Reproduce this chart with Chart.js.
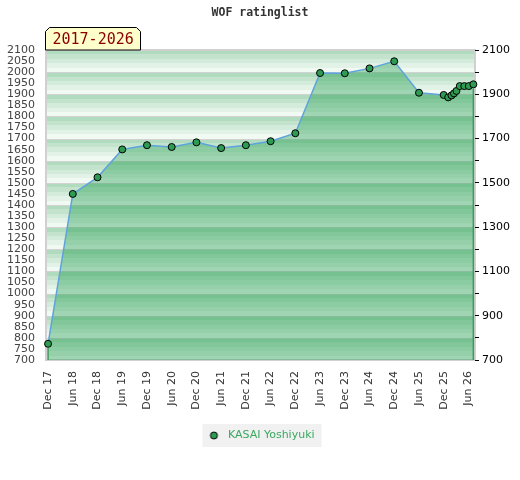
<!DOCTYPE html>
<html>
<head>
<meta charset="utf-8">
<script src="https://cdn.jsdelivr.net/npm/chart.js@4.4.1/dist/chart.umd.min.js"></script>
<style>
  html, body { margin: 0; padding: 0; background: #fff; }
</style>
</head>
<body>
<canvas id="chart" width="520" height="480"></canvas>
<script>
const chartTitle = "WOF ratinglist";
const periodLabel = "2017-2026";
const playerName = "KASAI Yoshiyuki";

// x = months counted from Dec 2017
const months = [0, 6, 12, 18, 24, 30, 36, 42, 48, 54, 60, 66, 72, 78, 84, 90, 96,
  97.1, 97.9, 98.5, 99.1, 99.9, 101, 102.1, 103.2];
const ratings = [773, 1450, 1525, 1651, 1670, 1662, 1683, 1657, 1670, 1688, 1724, 1996, 1995,
  2017, 2049, 1907, 1897, 1886, 1895, 1904, 1915, 1937, 1937, 1937, 1945];

const tickMonths = [0, 6, 12, 18, 24, 30, 36, 42, 48, 54, 60, 66, 72, 78, 84, 90, 96, 102];
const tickLabels = ["Dec 17", "Jun 18", "Dec 18", "Jun 19", "Dec 19", "Jun 20", "Dec 20", "Jun 21",
  "Dec 21", "Jun 22", "Dec 22", "Jun 23", "Dec 23", "Jun 24", "Dec 24", "Jun 25", "Dec 25", "Jun 26"];

// stripes inside every 100 points, darkest at the top
const bandColors = ['#b1dbbe', '#c3e3cd', '#d3ebdb', '#e2f2e7', '#f1f9f3'];

const pointFill = '#2e9b53';

// legend marker: a circle with some room after it
const legendMark = document.createElement('canvas');
legendMark.width = 17;
legendMark.height = 9;
{
  const c = legendMark.getContext('2d');
  c.beginPath();
  c.arc(8.5, 4.5, 3.5, 0, Math.PI * 2);
  c.fillStyle = pointFill;
  c.fill();
  c.lineWidth = 1;
  c.strokeStyle = '#000';
  c.stroke();
}

const backdrop = {
  id: 'backdrop',
  beforeDraw(chart) {
    const { ctx, chartArea: a, scales: { y } } = chart;
    ctx.save();
    for (let v = y.min; v < y.max; v += 20) {
      const i = (100 - ((v + 20) % 100 || 100)) / 20;
      const top = Math.round(y.getPixelForValue(v + 20));
      const bot = Math.round(y.getPixelForValue(v));
      ctx.fillStyle = bandColors[i];
      ctx.fillRect(a.left, top, a.right - a.left, bot - top);
    }
    ctx.strokeStyle = '#d2d2d2';
    ctx.lineWidth = 1;
    for (let v = y.min + 100; v < y.max; v += 100) {
      const py = Math.round(y.getPixelForValue(v)) + 0.5;
      ctx.beginPath();
      ctx.moveTo(a.left, py);
      ctx.lineTo(a.right, py);
      ctx.stroke();
    }
    ctx.lineWidth = 2;
    ctx.strokeStyle = '#d0d0d0';
    ctx.strokeRect(a.left, a.top, a.right - a.left, a.bottom - a.top);

    // legend background
    const hb = chart.legend.legendHitBoxes[0];
    if (hb) {
      ctx.fillStyle = '#f1f1f1';
      ctx.fillRect(hb.left - 3, hb.top + hb.height / 2 - 11.5, hb.width + 10, 23);
    }
    ctx.restore();
  },
  afterDatasetsDraw(chart) {
    const { ctx, chartArea: a } = chart;
    const pts = chart.getDatasetMeta(0).data;
    ctx.save();
    ctx.strokeStyle = '#3c9a5c';
    ctx.lineWidth = 1.5;
    [pts[0], pts[pts.length - 1]].forEach(p => {
      ctx.beginPath();
      ctx.moveTo(p.x, p.y + 4);
      ctx.lineTo(p.x, a.bottom);
      ctx.stroke();
    });
    ctx.restore();
  },
  afterDraw(chart) {
    const { ctx, chartArea: a } = chart;
    ctx.save();
    // title
    ctx.font = 'bold 11.5px "DejaVu Sans Mono"';
    ctx.fillStyle = '#333';
    ctx.textAlign = 'center';
    ctx.textBaseline = 'middle';
    ctx.fillText(chartTitle, chart.width / 2, 13);

    // period tab
    const l = a.left - 0.5, r = a.left + 94.5, t = a.top - 22.5, b = a.top;
    ctx.beginPath();
    ctx.moveTo(l, b);
    ctx.lineTo(l, t + 4);
    ctx.lineTo(l + 4, t);
    ctx.lineTo(r - 4, t);
    ctx.lineTo(r, t + 4);
    ctx.lineTo(r, b);
    ctx.closePath();
    ctx.fillStyle = '#ffffcc';
    ctx.fill();
    ctx.strokeStyle = '#000';
    ctx.lineWidth = 1;
    ctx.stroke();
    ctx.font = '15px "DejaVu Sans Mono"';
    ctx.fillStyle = '#8b0000';
    ctx.textAlign = 'left';
    ctx.fillText(periodLabel, l + 7, t + 12.5);
    ctx.restore();
  }
};

new Chart(document.getElementById('chart'), {
  type: 'line',
  data: {
    datasets: [{
      label: playerName,
      data: months.map((m, i) => ({ x: m, y: ratings[i] })),
      borderColor: '#5ea3dc',
      borderWidth: 1.5,
      backgroundColor: 'rgba(10,147,60,0.35)',
      fill: 'start',
      pointRadius: 3.5,
      pointBackgroundColor: pointFill,
      pointBorderColor: '#000',
      pointBorderWidth: 1,
      tension: 0,
      clip: false,
      yAxisID: 'y'
    }]
  },
  options: {
    responsive: false,
    animation: false,
    layout: { padding: { top: 50, bottom: 29, left: 0, right: 0 } },
    scales: {
      x: {
        type: 'linear',
        min: -0.5,
        max: 103.6,
        afterBuildTicks: s => { s.ticks = tickMonths.map(v => ({ value: v })); },
        afterFit: s => { s.height = 65; },
        ticks: {
          autoSkip: false,
          minRotation: 90,
          maxRotation: 90,
          color: '#333',
          font: { family: 'DejaVu Sans', size: 11 },
          callback: (v, i) => tickLabels[i]
        },
        grid: { display: false },
        border: { display: false }
      },
      y: {
        position: 'left',
        min: 700,
        max: 2100,
        afterFit: s => { s.width = 46; },
        ticks: {
          stepSize: 50,
          autoSkip: false,
          color: '#444',
          font: { family: 'DejaVu Sans', size: 11 },
          callback: v => String(v)
        },
        grid: { display: false },
        border: { display: false }
      },
      y2: {
        position: 'right',
        min: 700,
        max: 2100,
        afterFit: s => { s.width = 45; },
        ticks: {
          stepSize: 100,
          autoSkip: false,
          color: '#000',
          font: { family: 'DejaVu Sans', size: 11 },
          callback: v => ((v - 700) % 200 === 0 ? String(v) : '')
        },
        grid: { drawOnChartArea: false, tickLength: 4, color: '#000' },
        border: { display: false }
      }
    },
    plugins: {
      title: { display: false },
      tooltip: { enabled: false },
      legend: {
        position: 'bottom',
        labels: {
          usePointStyle: true,
          pointStyle: legendMark,
          pointStyleWidth: 17,
          boxHeight: 9,
          padding: 5,
          color: '#3aa860',
          font: { family: 'DejaVu Sans', size: 11 }
        }
      }
    }
  },
  plugins: [backdrop]
});
</script>
</body>
</html>
